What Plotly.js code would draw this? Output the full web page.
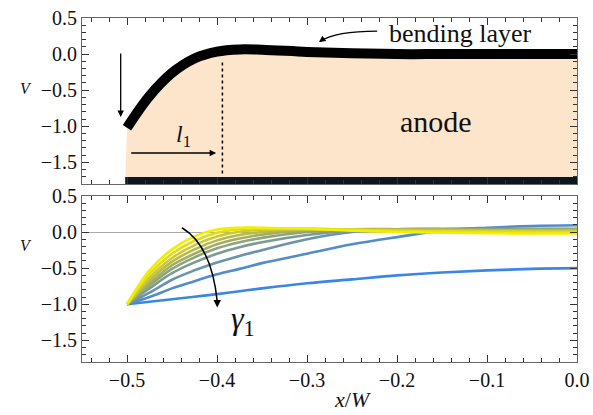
<!DOCTYPE html>
<html>
<head>
<meta charset="utf-8">
<script src="https://cdn.plot.ly/plotly-3.0.1.min.js"></script>
</head>
<body style="margin:0;background:#fff">
<div id="fontwarm" style="position:absolute;left:4px;top:4px;z-index:-1;opacity:0;font-family:'Liberation Serif';font-size:10px">0.5 <i>V γ</i></div>
<div id="chart" style="position:relative;width:593px;height:415px"></div>
<script>
// ---------- data ----------
var xGrid = [-0.5, -0.475, -0.45, -0.425, -0.4, -0.375, -0.35, -0.3, -0.25, -0.2, -0.15, -0.1, -0.05, 0];

// top panel: bending layer profile
var layerV = [-1.02, -0.58, -0.26, -0.06, 0.035, 0.065, 0.06, 0.03, 0.01, 0.0, 0.0, 0.0, 0.0, 0.0];
// anode base (bottom electrode)
var baseX = [-0.502, 0];
var baseV = [-1.75, -1.75];
var l1Position = -0.394;

// bottom panel: family of profiles, gamma_1 increasing (yellow -> blue)
var gammaCurves = [
  [-1.0, -0.53, -0.24, -0.06, 0.035, 0.06, 0.06, 0.045, 0.02, 0.0, -0.01, -0.015, -0.02, -0.02],
  [-1.0, -0.58, -0.30, -0.12, -0.01, 0.04, 0.05, 0.045, 0.03, 0.015, 0.01, 0.005, 0.0, 0.0],
  [-1.0, -0.63, -0.36, -0.18, -0.06, 0.005, 0.03, 0.045, 0.035, 0.025, 0.02, 0.015, 0.015, 0.015],
  [-1.0, -0.67, -0.41, -0.24, -0.115, -0.04, 0.0, 0.035, 0.04, 0.035, 0.03, 0.025, 0.025, 0.025],
  [-1.0, -0.71, -0.46, -0.30, -0.17, -0.09, -0.035, 0.025, 0.04, 0.04, 0.035, 0.03, 0.03, 0.03],
  [-1.0, -0.74, -0.51, -0.35, -0.225, -0.14, -0.08, 0.0, 0.035, 0.04, 0.04, 0.035, 0.035, 0.035],
  [-1.0, -0.78, -0.57, -0.42, -0.30, -0.21, -0.14, -0.04, 0.02, 0.04, 0.045, 0.045, 0.04, 0.04],
  [-1.0, -0.84, -0.66, -0.53, -0.42, -0.33, -0.25, -0.10, 0.0, 0.03, 0.04, 0.045, 0.045, 0.045],
  [-1.0, -0.90, -0.78, -0.68, -0.585, -0.51, -0.43, -0.30, -0.17, -0.07, 0.02, 0.06, 0.085, 0.095],
  [-1.0, -0.965, -0.93, -0.895, -0.86, -0.82, -0.78, -0.71, -0.655, -0.60, -0.56, -0.53, -0.51, -0.50]
];
var gammaColors = ['#f2ee00', '#e0dc1a', '#ccca33', '#b8b84c', '#a3ad64', '#8fa37c', '#7d9b92', '#6a94ab', '#528dca', '#3a86e6'];

var xTickVals = [-0.5, -0.4, -0.3, -0.2, -0.1, 0.0];
var yTickVals = [-1.5, -1.0, -0.5, 0.0, 0.5];

// ---------- warm up the serif font (regular + italic) before drawing ----------
var fam = 'Liberation Serif';
try {
  var cx = document.createElement('canvas').getContext('2d');
  cx.font = '20px "Liberation Serif"'; cx.measureText('0.5 −1.0 bending anode');
  cx.font = 'italic 20px "Liberation Serif"'; cx.measureText('V x W l γ');
  document.getElementById('fontwarm').getBoundingClientRect();
} catch (e) {}

// ---------- traces ----------
function makeTraces() {
  var traces = [];
  for (var i = gammaCurves.length - 1; i >= 0; i--) {
    traces.push({
      x: xGrid, y: gammaCurves[i], xaxis: 'x', yaxis: 'y',
      type: 'scatter', mode: 'lines', showlegend: false, hoverinfo: 'skip',
      line: {color: gammaColors[i], width: 2.6, shape: 'spline'}
    });
  }
  traces.push({
    x: baseX, y: baseV, xaxis: 'x2', yaxis: 'y2', type: 'scatter', mode: 'lines',
    showlegend: false, hoverinfo: 'skip', line: {width: 0, color: 'rgba(0,0,0,0)'}
  });
  traces.push({
    x: xGrid, y: layerV, xaxis: 'x2', yaxis: 'y2', type: 'scatter', mode: 'lines',
    fill: 'tonexty', fillcolor: '#fde5cc', showlegend: false, hoverinfo: 'skip',
    line: {color: '#000', width: 10, shape: 'spline'}
  });
  traces.push({
    x: baseX, y: baseV, xaxis: 'x2', yaxis: 'y2', type: 'scatter', mode: 'lines',
    showlegend: false, hoverinfo: 'skip', line: {color: '#0b1822', width: 7}
  });
  return traces;
}

// ---------- layout ----------
function xAxisCfg(extra) {
  var a = {
    range: [-0.55, 0], tickvals: xTickVals, tickformat: '.1f',
    ticks: 'inside', ticklen: 7, tickwidth: 1, tickcolor: '#333',
    minor: {dtick: 0.02, tick0: 0, ticks: 'inside', ticklen: 4, tickwidth: 1, tickcolor: '#333'},
    showline: true, linecolor: '#666', linewidth: 1, mirror: 'ticks',
    showgrid: false, zeroline: false,
    tickfont: {family: fam, size: 20}
  };
  for (var k in extra) a[k] = extra[k];
  return a;
}
function yAxisCfg(extra) {
  var a = {
    range: [-1.8, 0.5], tickvals: yTickVals, tickformat: '.1f',
    ticks: 'inside', ticklen: 7, tickwidth: 1, tickcolor: '#333',
    minor: {dtick: 0.1, tick0: 0, ticks: 'inside', ticklen: 4, tickwidth: 1, tickcolor: '#333'},
    showline: true, linecolor: '#666', linewidth: 1, mirror: 'ticks',
    showgrid: false,
    tickfont: {family: fam, size: 20}
  };
  for (var k in extra) a[k] = extra[k];
  return a;
}

var arrowCommon = {text: '', showarrow: true, arrowhead: 2, arrowsize: 1, arrowwidth: 1.3, arrowcolor: '#000', standoff: 0, startstandoff: 0};
function arrow(o) { var a = {}; for (var k in arrowCommon) a[k] = arrowCommon[k]; for (var k2 in o) a[k2] = o[k2]; return a; }

function makeLayout() {
  return {
    width: 593, height: 415,
    margin: {l: 82, r: 16, t: 18, b: 53, pad: 0},
    paper_bgcolor: '#fff', plot_bgcolor: '#fff',
    showlegend: false,
    font: {family: fam, color: '#111'},
    xaxis: xAxisCfg({anchor: 'y', domain: [0, 1]}),
    yaxis: yAxisCfg({anchor: 'x', domain: [0, 0.4826], zeroline: true, zerolinecolor: '#a8a8a8', zerolinewidth: 1}),
    xaxis2: xAxisCfg({anchor: 'y2', domain: [0, 1], matches: 'x', showticklabels: false}),
    yaxis2: yAxisCfg({anchor: 'x2', domain: [0.5174, 1], zeroline: false}),
    shapes: [
      {type: 'line', xref: 'x2', yref: 'y2', x0: l1Position, x1: l1Position, y0: -0.115, y1: -1.68,
       line: {color: '#000', width: 1.5, dash: 'dot'}},
      {type: 'path', xref: 'x2', yref: 'y2', path: 'M -0.222 0.318 Q -0.268 0.318 -0.2855 0.175',
       line: {color: '#000', width: 1.3}},
      {type: 'path', xref: 'x', yref: 'y', path: 'M -0.439 0.06 Q -0.4059 -0.1875 -0.3998 -0.96',
       line: {color: '#000', width: 1.5}}
    ],
    annotations: [
      {xref: 'paper', yref: 'y2', x: -0.1293, y: -0.48, text: '<i>V</i>', showarrow: false,
       font: {family: fam, size: 16}},
      {xref: 'paper', yref: 'y', x: -0.1293, y: -0.18, text: '<i>V</i>', showarrow: false,
       font: {family: fam, size: 16}},
      {xref: 'paper', yref: 'paper', x: 0.547, y: -0.11, yanchor: 'middle', text: '<i>x</i>/<i>W</i>', showarrow: false,
       font: {family: fam, size: 22}},
      {xref: 'x2', yref: 'y2', x: -0.129, y: 0.28, text: 'bending layer', showarrow: false,
       font: {family: fam, size: 26}},
      {xref: 'x2', yref: 'y2', x: -0.157, y: -0.94, text: 'anode', showarrow: false,
       font: {family: fam, size: 30}},
      {xref: 'x2', yref: 'y2', x: -0.437, y: -1.13, text: '<i>l</i><sub>1</sub>', showarrow: false,
       font: {family: fam, size: 24}},
      {xref: 'x', yref: 'y', x: -0.371, y: -1.22, text: '<i>γ</i><sub>1</sub>', showarrow: false,
       font: {family: fam, size: 32}},
      arrow({xref: 'x2', yref: 'y2', axref: 'x2', ayref: 'y2', x: -0.507, y: -0.87, ax: -0.507, ay: 0.03}),
      arrow({xref: 'x2', yref: 'y2', axref: 'x2', ayref: 'y2', x: -0.401, y: -1.37, ax: -0.497, ay: -1.37}),
      arrow({xref: 'x2', yref: 'y2', x: -0.2867, y: 0.166, ax: 7, ay: -5}),
      arrow({xref: 'x', yref: 'y', x: -0.3997, y: -1.045, ax: 0, ay: -9, arrowwidth: 1.5})
    ]
  };
}

var config = {staticPlot: true, displayModeBar: false};
function draw() { Plotly.newPlot('chart', makeTraces(), makeLayout(), config); }

// draw now, and redraw later so every text picks up the serif face once it is available
draw();
draw();
if (window.requestAnimationFrame) requestAnimationFrame(function () { draw(); });
[60, 250, 600, 1200].forEach(function (t) { setTimeout(draw, t); });
if (document.fonts && document.fonts.ready) document.fonts.ready.then(function () { setTimeout(draw, 0); });
</script>
</body>
</html>
